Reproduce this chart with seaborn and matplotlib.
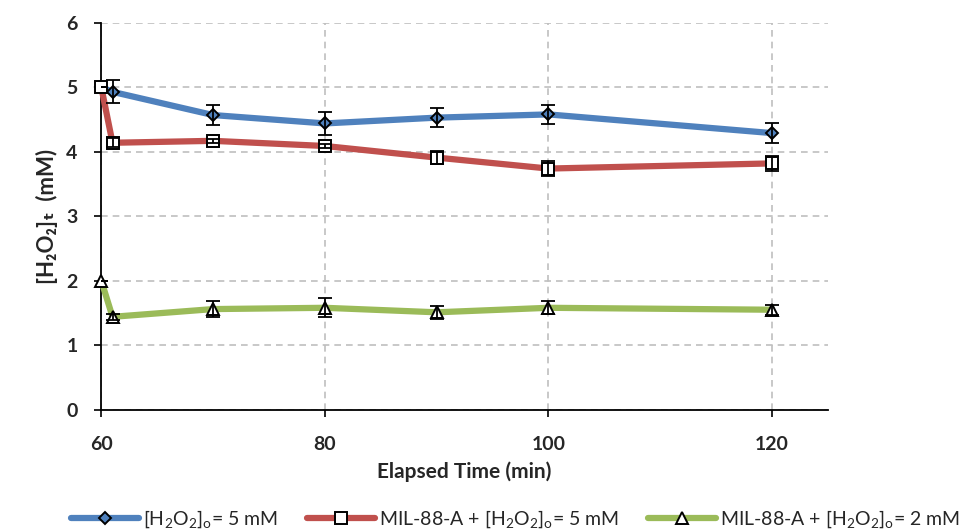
import pandas as pd
import matplotlib.pyplot as plt
import seaborn as sns

# Data
time = [60, 61, 70, 80, 90, 100, 120]
h2o2_5 = [5.0, 4.93, 4.57, 4.44, 4.53, 4.58, 4.29]
h2o2_5_err = [0.0, 0.18, 0.15, 0.18, 0.15, 0.15, 0.15]
mil_5 = [5.0, 4.14, 4.17, 4.09, 3.91, 3.74, 3.82]
mil_5_err = [0.0, 0.07, 0.03, 0.03, 0.1, 0.12, 0.12]
mil_2 = [2.0, 1.44, 1.56, 1.58, 1.51, 1.58, 1.55]
mil_2_err = [0.0, 0.05, 0.13, 0.15, 0.1, 0.1, 0.08]

labels = ['[H$_2$O$_2$]$_o$= 5 mM',
          'MIL-88-A + [H$_2$O$_2$]$_o$= 5 mM',
          'MIL-88-A + [H$_2$O$_2$]$_o$= 2 mM']

sns.set_style("white")
plt.rcParams['font.family'] = ['Lato', 'DejaVu Sans']
plt.rcParams['mathtext.fontset'] = 'custom'
plt.rcParams['mathtext.rm'] = 'Lato'
plt.rcParams['mathtext.it'] = 'Lato'
plt.rcParams['mathtext.bf'] = 'Lato:bold'

fig, ax = plt.subplots(figsize=(9.65, 5.32), dpi=100)
fig.subplots_adjust(left=0.105, right=0.858, top=0.957, bottom=0.23)

series = [
    (h2o2_5, h2o2_5_err, '#4F81BD', 'D', '#4F81BD', 6),
    (mil_5, mil_5_err, '#C0504D', 's', 'white', 8),
    (mil_2, mil_2_err, '#9BBB59', '^', 'white', 8),
]

for (vals, errs, color, marker, face, ms), label in zip(series, labels):
    df = pd.DataFrame({'time': time, 'conc': vals})
    sns.lineplot(data=df, x='time', y='conc', color=color, linewidth=4.5,
                 marker=marker, markersize=ms, markerfacecolor=face,
                 markeredgecolor='black', markeredgewidth=1.4,
                 label=label, ax=ax, zorder=3, clip_on=False)
    ax.errorbar(time, vals, yerr=errs, fmt='none', ecolor='black',
                elinewidth=1.3, capsize=5, capthick=1.3, zorder=4)

ax.set_xlim(60, 125)
ax.set_ylim(0, 6)
ax.set_xticks([60, 80, 100, 120])
ax.set_yticks(range(0, 7))
ax.grid(True, linestyle=(0, (4, 3)), color='#BFBFBF', linewidth=1.2)
ax.set_axisbelow(True)
for s in ['top', 'right']:
    ax.spines[s].set_visible(False)
for s in ['left', 'bottom']:
    ax.spines[s].set_color('black')
    ax.spines[s].set_linewidth(1.3)
ax.tick_params(axis='both', direction='out', length=5, width=1.2,
               labelsize=14, bottom=True, left=True, color='black')
ax.tick_params(axis='x', pad=14)
ax.tick_params(axis='y', pad=12)
ax.set_xticklabels([str(v) for v in [60, 80, 100, 120]], fontweight='bold')
ax.set_yticklabels([str(v) for v in range(0, 7)], fontweight='bold')

ax.set_xlabel('Elapsed Time (min)', fontsize=15, fontweight='bold', labelpad=6)
ax.set_ylabel('[H\u2082O\u2082]\u209c  (mM)', fontsize=16, fontweight='bold',
              labelpad=6)

ax.legend(loc='upper center', bbox_to_anchor=(0.57, -0.21), ncol=3,
          frameon=False, fontsize=14, handlelength=3.5, columnspacing=1.5,
          handletextpad=0.2)

plt.savefig('out.png', dpi=100)
